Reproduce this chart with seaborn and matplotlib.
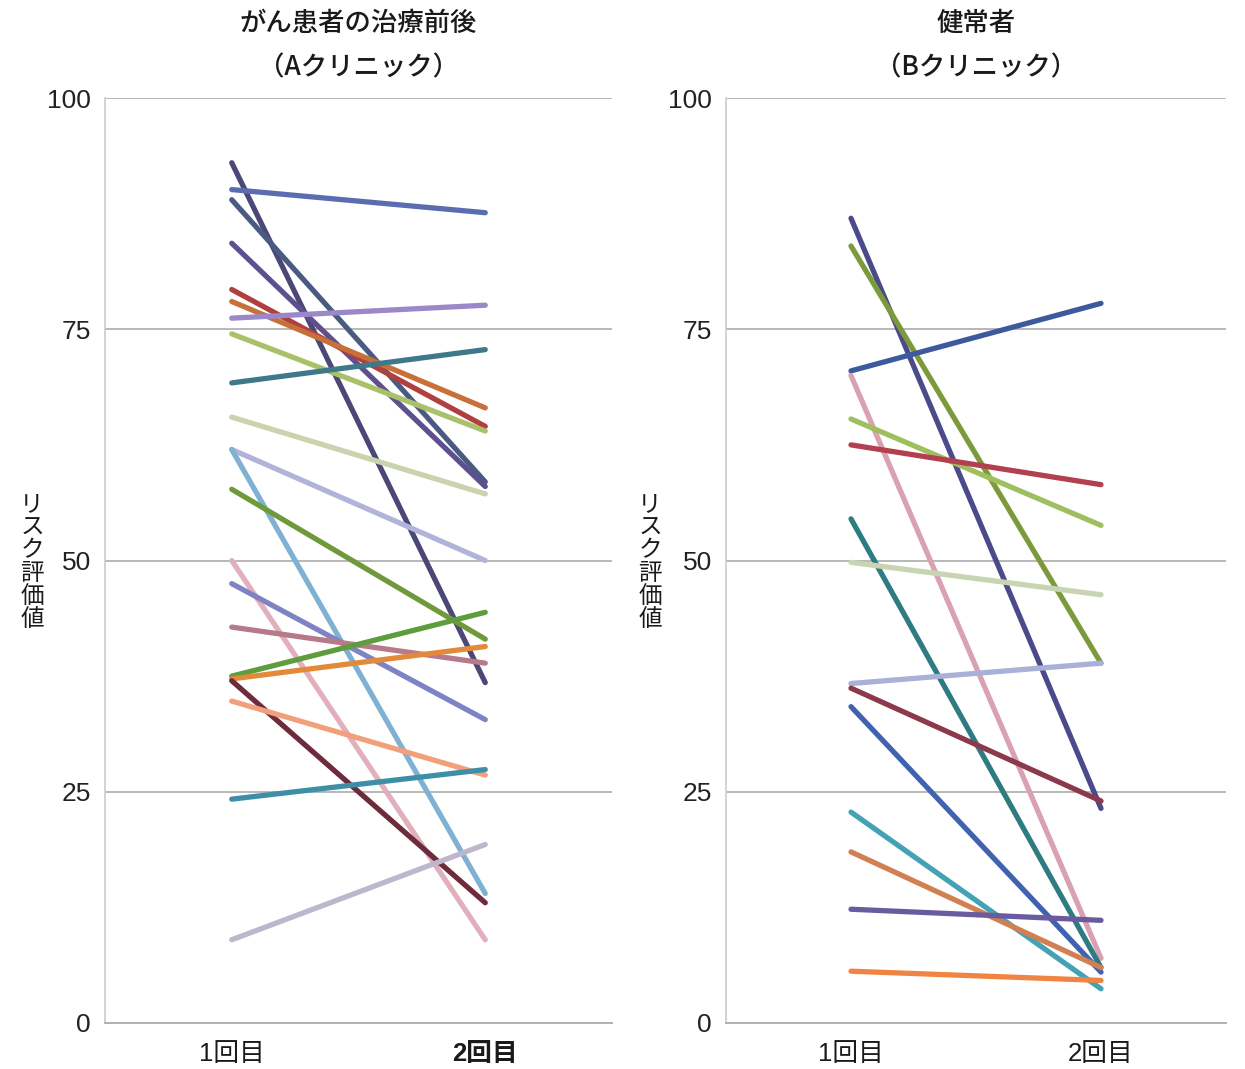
import matplotlib
matplotlib.use('Agg')
import matplotlib.pyplot as plt
import pandas as pd
import seaborn as sns

# data
visits = ['1回目', '2回目']

a_before = [93.0, 90.1, 89.0, 84.3, 79.3, 78.0, 74.5, 76.2, 69.2, 65.5,
            62.0, 62.0, 57.7, 50.0, 47.5, 42.8, 37.5, 37.2, 37.0, 34.8,
            24.2, 9.0]
a_after = [36.8, 87.6, 58.5, 58.0, 64.5, 66.5, 64.0, 77.6, 72.8, 57.2,
           50.0, 14.0, 41.5, 9.0, 32.8, 38.9, 44.4, 40.7, 13.0, 26.8,
           27.4, 19.3]
a_colors = ['#4b4878', '#5a6db0', '#4a5b82', '#5e4f8e', '#b0403f', '#c8703a',
            '#a9c26a', '#9a88c8', '#3e7889', '#c9d3ae', '#b1b4d8', '#80b0d2',
            '#6f9a3c', '#e0b0bd', '#7f83c4', '#b77a8b', '#5e9c3e', '#e38a3a',
            '#6d2b3c', '#f2a07c', '#3f8ea8', '#bdb6cc']

b_before = [87.0, 84.0, 70.5, 70.0, 65.3, 62.5, 54.5, 49.8, 36.7, 36.2,
            34.2, 22.8, 18.5, 12.3, 5.6]
b_after = [23.2, 38.9, 77.8, 7.0, 53.8, 58.2, 6.0, 46.3, 38.9, 24.0,
           5.5, 3.7, 6.0, 11.1, 4.6]
b_colors = ['#4b4a8a', '#7c9a3c', '#3d5b9c', '#d9a2b3', '#9fbf5e', '#b2404f',
            '#2f7b82', '#c9d5b2', '#aab1d9', '#8a3a4a', '#4162b0', '#43a2b3',
            '#d08052', '#6a5aa0', '#f08444']

titles = ['がん患者の治療前後\n（Aクリニック）', '健常者\n（Bクリニック）']
ylabel = 'リスク評価値'


def to_long(before, after):
    rows = []
    for i, (b, a) in enumerate(zip(before, after)):
        rows.append({'id': i, 'visit': visits[0], 'value': b})
        rows.append({'id': i, 'visit': visits[1], 'value': a})
    return pd.DataFrame(rows)


sns.set_style('white')
plt.rcParams['font.family'] = ['Liberation Sans', 'Noto Sans CJK JP', 'DejaVu Sans']

fig = plt.figure(figsize=(12.45, 10.69), dpi=100)
ax1 = fig.add_axes([105 / 1245, 46 / 1069, 507 / 1245, 925 / 1069])
ax2 = fig.add_axes([726 / 1245, 46 / 1069, 500 / 1245, 925 / 1069])

panels = [(ax1, a_before, a_after, a_colors, 32),
          (ax2, b_before, b_after, b_colors, 650)]

for k, (ax, before, after, colors, ylab_x) in enumerate(panels):
    df = to_long(before, after)
    sns.lineplot(data=df, x='visit', y='value', hue='id', palette=colors,
                 legend=False, lw=3.8, ax=ax, zorder=3, sort=False)
    ax.set_xlim(-0.5, 1.5)
    ax.set_ylim(0, 100)
    ax.set_yticks([0, 25, 50, 75, 100])
    ax.set_xticks([0, 1])
    ax.set_xticklabels(visits)
    ax.set_xticks([-0.5, 0.5, 1.5], minor=True)
    ax.tick_params(axis='x', which='major', length=0, pad=14, labelsize=18.5,
                   labelcolor='#1a1a1a')
    ax.tick_params(axis='x', which='minor', length=7, color='#aaaaaa', width=1.2)
    ax.tick_params(axis='y', length=4, color='#aaaaaa', pad=6, labelsize=19,
                   labelcolor='#222222')
    ax.set_xlabel('')
    ax.set_ylabel('')
    ax.yaxis.grid(True, color='#b8b8b8', lw=1.4, zorder=0)
    ax.xaxis.grid(False)
    for side in ['top', 'right']:
        ax.spines[side].set_visible(False)
    ax.spines['left'].set_color('#cccccc')
    ax.spines['bottom'].set_color('#b0b0b0')
    ax.spines['left'].set_linewidth(1.2)
    ax.spines['bottom'].set_linewidth(1.4)
    ax.set_title(titles[k], fontsize=19, linespacing=1.85, pad=16,
                 family=['Noto Sans CJK JP', 'DejaVu Sans'], color='#1a1a1a',
                 fontweight='medium')
    if k == 0:
        ax.get_xticklabels()[1].set_fontweight('bold')
    fig.text(ylab_x / 1245, 1 - 562 / 1069, '\n'.join(ylabel), fontsize=17,
             ha='center', va='center', linespacing=1.0,
             family=['Noto Sans CJK JP', 'DejaVu Sans'], color='#1a1a1a')

fig.savefig('out.png', dpi=100)
